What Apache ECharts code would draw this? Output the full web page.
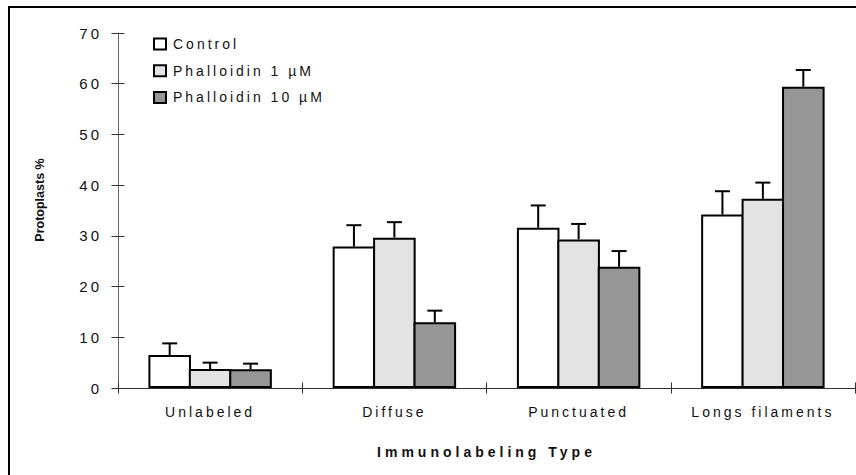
<!DOCTYPE html>
<html>
<head>
<meta charset="utf-8">
<script src="https://cdn.jsdelivr.net/npm/echarts@6/dist/echarts.min.js"></script>
<style>
html,body{margin:0;padding:0;background:#fff;}
#chart{width:856px;height:475px;}
#chart text{letter-spacing:3px;}
</style>
</head>
<body>
<div id="chart"></div>
<script>
const categories = ['Unlabeled', 'Diffuse', 'Punctuated', 'Longs filaments'];
const seriesNames = ['Control', 'Phalloidin 1 µM', 'Phalloidin 10 µM'];
const control = [6.5, 27.9, 31.6, 34.2];
const phall1 = [3.75, 29.65, 29.3, 37.3];
const phall10 = [3.7, 12.95, 23.9, 59.4];
const controlErr = [2.3, 4.2, 4.4, 4.6];
const phall1Err = [1.25, 3.05, 3.05, 3.2];
const phall10Err = [1.1, 2.3, 3.1, 3.3];
const xTitle = 'Immunolabeling Type';
const yTitle = 'Protoplasts %';

const fills = ['#ffffff', '#e3e3e3', '#969696'];
const values = [control, phall1, phall10];
const errs = [controlErr, phall1Err, phall10Err];
const CAT_GAP = 0.33;
const BAR_GAP = -0.05;

const chart = echarts.init(document.getElementById('chart'), null, {renderer: 'svg'});

const font = 'Liberation Sans, Arial, sans-serif';

function errSeries(k) {
  return {
    type: 'custom',
    name: seriesNames[k] + ' err',
    xAxisIndex: 0, yAxisIndex: 0,
    z: 5,
    data: values[k].map((v, i) => [i, v, errs[k][i]]),
    encode: {x: 0, y: 1},
    renderItem: function (params, api) {
      const idx = api.value(0), v = api.value(1), e = api.value(2);
      const bandW = api.size([1, 0])[0];
      const barW = bandW * (1 - CAT_GAP) / (3 + 2 * BAR_GAP);
      const base = api.coord([idx, v]);
      const top = api.coord([idx, v + e]);
      const x = base[0] + (k - 1) * barW * (1 + BAR_GAP);
      return {
        type: 'group',
        children: [
          {type: 'line', shape: {x1: x, y1: base[1], x2: x, y2: top[1]}, style: {stroke: '#000', lineWidth: 2}},
          {type: 'line', shape: {x1: x - 7.5, y1: top[1], x2: x + 7.5, y2: top[1]}, style: {stroke: '#000', lineWidth: 2}}
        ]
      };
    }
  };
}

const barSeries = values.map((vals, k) => ({
  type: 'bar',
  name: seriesNames[k],
  xAxisIndex: 0, yAxisIndex: 0,
  data: vals,
  barGap: (BAR_GAP * 100) + '%',
  barCategoryGap: (CAT_GAP * 100) + '%',
  itemStyle: {color: fills[k], borderColor: '#000', borderWidth: 2},
  emphasis: {disabled: true}
}));

const option = {
  animation: false,
  backgroundColor: '#fff',
  textStyle: {fontFamily: font},
  grid: {left: 118, right: 1, top: 33, bottom: 87, containLabel: false},
  legend: {
    data: seriesNames,
    orient: 'vertical',
    left: 153, top: 37,
    padding: 0,
    itemWidth: 12, itemHeight: 11,
    itemGap: 12.7,
    icon: 'rect',
    selectedMode: false,
    textStyle: {fontSize: 14, color: '#111', fontFamily: font, padding: [0, 0, 0, 2]}
  },
  xAxis: [
    {
      type: 'category', data: categories, position: 'bottom',
      axisLine: {lineStyle: {color: '#333', width: 1}},
      axisTick: {show: true, inside: false, length: 5.5, lineStyle: {color: '#333'}},
      axisLabel: {fontSize: 14, color: '#111', margin: 17, fontFamily: font},
      name: xTitle, nameLocation: 'middle', nameGap: 57,
      nameTextStyle: {fontSize: 14, fontWeight: 'bold', color: '#111', fontFamily: font}
    },
    {
      type: 'category', data: categories, position: 'bottom',
      axisLine: {show: false},
      axisTick: {show: true, inside: true, length: 5.5, lineStyle: {color: '#333'}},
      axisLabel: {show: false}
    }
  ],
  yAxis: [
    {
      type: 'value', min: 0, max: 70, interval: 10, position: 'left',
      axisLine: {show: true, lineStyle: {color: '#666', width: 1}},
      axisTick: {show: true, inside: false, length: 6.5, lineStyle: {color: '#333'}},
      axisLabel: {fontSize: 15, color: '#111', margin: 16, fontFamily: font},
      splitLine: {show: false}
    },
    {
      type: 'value', min: 0, max: 70, interval: 10, position: 'left', offset: 0,
      axisLine: {show: false},
      axisTick: {show: true, inside: true, length: 6.5, lineStyle: {color: '#333'}},
      axisLabel: {show: false},
      splitLine: {show: false}
    }
  ],
  graphic: [
    {type: 'rect', shape: {x: 9, y: 7, width: 1000, height: 1000}, style: {fill: 'none', stroke: '#000', lineWidth: 2}, silent: true, z: 100},
    {type: 'text', x: 40, y: 200, rotation: Math.PI / 2, silent: true,
     style: {text: yTitle, align: 'center', verticalAlign: 'middle', fill: '#111', font: 'bold 12.5px ' + font}}
  ],
  series: barSeries.concat([0, 1, 2].map(errSeries))
};

chart.setOption(option);

function applySpacing() {
  document.querySelectorAll('#chart text').forEach(t => {
    const s = t.textContent;
    let ls = '3px';
    if (s === yTitle) ls = '0px';
    else if (s === xTitle) ls = '4px';
    t.style.letterSpacing = ls;
  });
}
chart.on('finished', applySpacing);
applySpacing();
setTimeout(applySpacing, 50);
</script>
</body>
</html>
